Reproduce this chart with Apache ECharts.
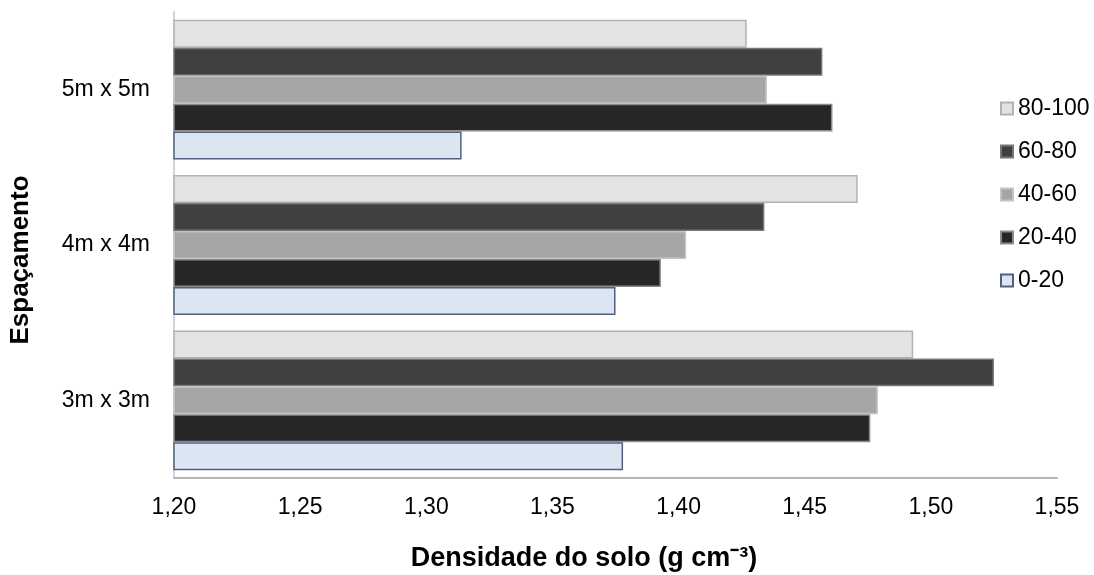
<!DOCTYPE html>
<html>
<head>
<meta charset="utf-8">
<script src="https://cdn.jsdelivr.net/npm/echarts@6/dist/echarts.min.js"></script>
<style>
  html, body { margin: 0; padding: 0; background: #ffffff; }
  #chart { width: 1094px; height: 575px; }
</style>
</head>
<body>
<div id="chart"></div>
<script>
// Soil bulk density by planting spacing and depth layer
const categories = ['3m x 3m', '4m x 4m', '5m x 5m'];
const layers = ['80-100', '60-80', '40-60', '20-40', '0-20'];
const d80_100 = [1.493, 1.471, 1.427];
const d60_80  = [1.525, 1.434, 1.457];
const d40_60  = [1.479, 1.403, 1.435];
const d20_40  = [1.476, 1.393, 1.461];
const d0_20   = [1.378, 1.375, 1.314];
const values = [d80_100, d60_80, d40_60, d20_40, d0_20];
const xTicks = [1.20, 1.25, 1.30, 1.35, 1.40, 1.45, 1.50, 1.55];

const fills   = ['#e3e3e3', '#404040', '#a6a6a6', '#262626', '#dce6f2'];
const borders = ['#b2b2b2', '#767676', '#c4c4c4', '#8c8c8c', '#4f6180'];
const FONT = "'Liberation Sans', Arial, sans-serif";

const chart = echarts.init(document.getElementById('chart'));
chart.setOption({
  animation: false,
  backgroundColor: '#ffffff',
  textStyle: { fontFamily: FONT },
  grid: { left: 174, right: 37, top: 12, bottom: 97, containLabel: false },
  legend: {
    orient: 'vertical',
    left: 995,
    top: 92,
    itemWidth: 12,
    itemHeight: 12,
    itemGap: 20,
    icon: 'rect',
    data: layers,
    textStyle: { fontFamily: FONT, fontSize: 23, color: '#000' }
  },
  xAxis: {
    type: 'value',
    min: xTicks[0],
    max: xTicks[xTicks.length - 1],
    interval: 0.05,
    axisLine: { show: true, lineStyle: { color: '#b5b5b5', width: 2 } },
    axisTick: { show: false },
    splitLine: { show: false },
    axisLabel: {
      margin: 18,
      fontSize: 23,
      color: '#000',
      fontFamily: FONT,
      formatter: v => v.toFixed(2).replace('.', ',')
    }
  },
  yAxis: {
    type: 'category',
    data: categories,
    axisLine: { show: true, lineStyle: { color: '#d4d4d4', width: 2 } },
    axisTick: { show: false },
    splitLine: { show: false },
    axisLabel: { margin: 24, fontSize: 23, color: '#000', fontFamily: FONT }
  },
  graphic: [
    {
      type: 'text',
      x: 584, y: 559,
      style: {
        text: 'Densidade do solo (g cm⁻³)',
        font: 'bold 27px ' + FONT,
        fill: '#000',
        align: 'center',
        verticalAlign: 'middle'
      }
    },
    {
      type: 'text',
      x: 21, y: 260,
      rotation: Math.PI / 2,
      style: {
        text: 'Espaçamento',
        font: 'bold 26px ' + FONT,
        fill: '#000',
        align: 'center',
        verticalAlign: 'middle'
      }
    }
  ],
  series: layers.map((name, i) => ({
    name: name,
    type: 'bar',
    data: values[i],
    barGap: '0%',
    barCategoryGap: '10%',
    itemStyle: { color: fills[i], borderColor: borders[i], borderWidth: 1.5 }
  }))
});
</script>
</body>
</html>
